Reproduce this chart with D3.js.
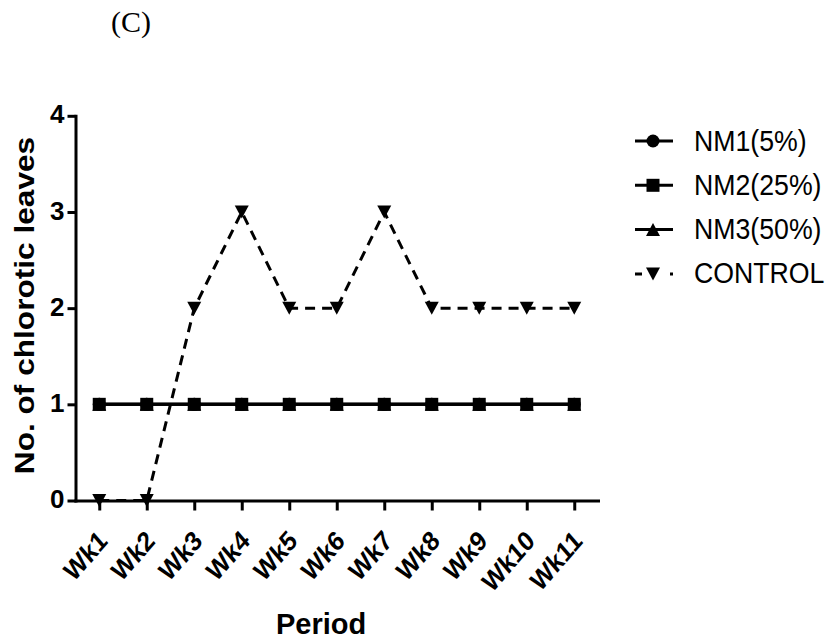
<!DOCTYPE html>
<html>
<head>
<meta charset="utf-8">
<script src="https://cdn.jsdelivr.net/npm/d3@7"></script>
<style>
  body { margin: 0; background: #fff; }
  text { fill: #000; }
</style>
</head>
<body>
<svg id="chart" width="831" height="643"></svg>
<script>
const weeks = ["Wk1", "Wk2", "Wk3", "Wk4", "Wk5", "Wk6", "Wk7", "Wk8", "Wk9", "Wk10", "Wk11"];
const nm1 = [1, 1, 1, 1, 1, 1, 1, 1, 1, 1, 1];
const nm2 = [1, 1, 1, 1, 1, 1, 1, 1, 1, 1, 1];
const nm3 = [1, 1, 1, 1, 1, 1, 1, 1, 1, 1, 1];
const control = [0, 0, 2, 3, 2, 2, 3, 2, 2, 2, 2];
const yTicks = [0, 1, 2, 3, 4];
const seriesNames = ["NM1(5%)", "NM2(25%)", "NM3(50%)", "CONTROL"];

// marker shapes, centred on the point
const shapes = {
  circle: "M6.5,0A6.5,6.5 0 1,1 -6.5,0A6.5,6.5 0 1,1 6.5,0Z",
  square: "M-6.5,-6.5H6.5V6.5H-6.5Z",
  up: "M0,-6.5L7,6.5H-7Z",
  down: "M-7,-6.5H7L0,6.5Z",
};

// NM2 last of the three so its squares sit on top, as in the figure
const series = [
  { name: seriesNames[0], values: nm1, shape: "circle", dash: null },
  { name: seriesNames[2], values: nm3, shape: "up", dash: null },
  { name: seriesNames[1], values: nm2, shape: "square", dash: null },
  { name: seriesNames[3], values: control, shape: "down", dash: "10,7" },
];

const svg = d3.select("#chart");
const sans = "'Liberation Sans', Arial, Helvetica, sans-serif";

const x = d3.scalePoint().domain(weeks).range([75.5, 598]).padding(0.5);
const y = d3.scaleLinear().domain([0, 4]).range([500.5, 115.8]);

// series lines
const line = d3
  .line()
  .x((d, i) => x(weeks[i]))
  .y((d) => y(d));

series.forEach((s) => {
  svg
    .append("path")
    .datum(s.values)
    .attr("d", line)
    .attr("fill", "none")
    .attr("stroke", "#000")
    .attr("stroke-width", 3)
    .attr("stroke-dasharray", s.dash);
});

// axes
const yAxis = svg
  .append("g")
  .attr("transform", "translate(75.5,0)")
  .call(d3.axisLeft(y).tickValues(yTicks).tickFormat(d3.format("d")).tickSize(8).tickSizeOuter(0).tickPadding(3));

const xAxis = svg
  .append("g")
  .attr("transform", `translate(0,${y(0)})`)
  .call(d3.axisBottom(x).tickSize(10).tickSizeOuter(0));

[yAxis, xAxis].forEach((g) => {
  g.selectAll("path, line").attr("stroke", "#000").attr("stroke-width", 3);
  g.select(".domain").attr("stroke-linecap", "square");
  g.selectAll("text")
    .attr("fill", "#000")
    .style("font-family", sans)
    .style("font-weight", "bold")
    .style("font-size", "26px");
});

yAxis.selectAll("text").attr("dy", "0.27em");

xAxis
  .selectAll("text")
  .attr("x", 0)
  .attr("y", 0)
  .attr("dy", null)
  .attr("text-anchor", "end")
  .style("font-size", "24px")
  .attr("transform", "translate(9,42) scale(1,1.15) rotate(-45)");

// markers drawn over the axes
series.forEach((s) => {
  svg
    .append("g")
    .selectAll("path")
    .data(s.values)
    .join("path")
    .attr("d", shapes[s.shape])
    .attr("transform", (d, i) => `translate(${x(weeks[i])},${y(d)})`)
    .attr("fill", "#000");
});

// titles
svg
  .append("text")
  .attr("x", 131)
  .attr("y", 32)
  .attr("text-anchor", "middle")
  .style("font-family", "'Liberation Serif', 'Times New Roman', serif")
  .style("font-size", "30px")
  .text("(C)");

svg
  .append("text")
  .attr("transform", "translate(33.5,305.5) rotate(-90) scale(1.13,1)")
  .attr("text-anchor", "middle")
  .style("font-family", sans)
  .style("font-weight", "bold")
  .style("font-size", "28px")
  .text("No. of chlorotic leaves");

svg
  .append("text")
  .attr("x", 276)
  .attr("y", 634)
  .style("font-family", sans)
  .style("font-weight", "bold")
  .style("font-size", "29px")
  .text("Period");

// legend
const legendOrder = [
  { name: seriesNames[0], shape: "circle", dash: null },
  { name: seriesNames[1], shape: "square", dash: null },
  { name: seriesNames[2], shape: "up", dash: null },
  { name: seriesNames[3], shape: "down", dash: "7,28,3" },
];

const legend = svg
  .selectAll(".legend")
  .data(legendOrder)
  .join("g")
  .attr("class", "legend")
  .attr("transform", (d, i) => `translate(0,${141 + i * 44.3})`);

legend
  .append("line")
  .attr("x1", 635)
  .attr("x2", 673)
  .attr("stroke", "#000")
  .attr("stroke-width", 3)
  .attr("stroke-dasharray", (d) => d.dash);

legend
  .append("path")
  .attr("d", (d) => shapes[d.shape])
  .attr("transform", "translate(653,0)")
  .attr("fill", "#000");

legend
  .append("text")
  .attr("transform", "translate(694,9.5) scale(0.89,1)")
  .style("font-family", sans)
  .style("font-size", "30px")
  .text((d) => d.name);
</script>
</body>
</html>
